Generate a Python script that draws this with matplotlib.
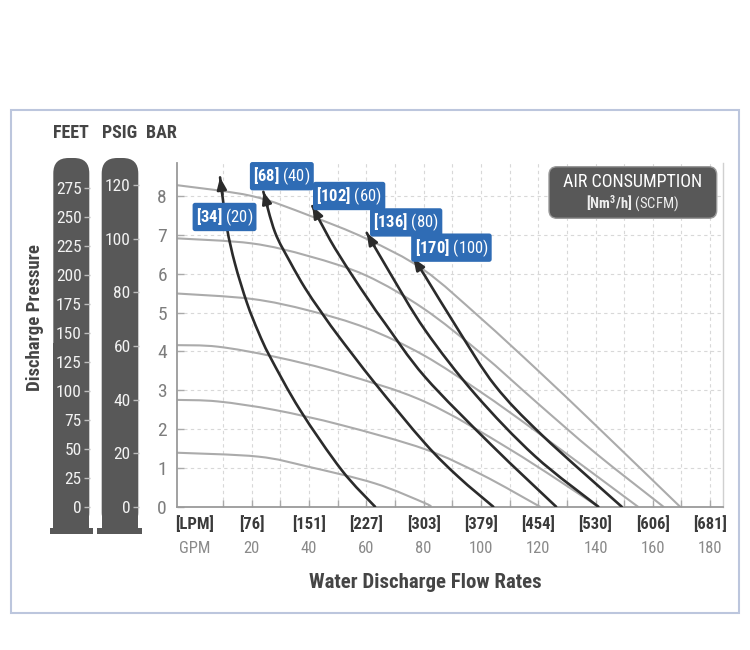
import numpy as np
import matplotlib
matplotlib.use("Agg")
import matplotlib.pyplot as plt
from matplotlib import font_manager
from matplotlib.patches import FancyBboxPatch, Rectangle, PathPatch
from matplotlib.path import Path

# ---- data ----
# pump performance curves (gray), flow in GPM vs discharge pressure in bar
pump_gpm = [
    [-6.2, 20, 40, 60, 80, 100, 120, 140, 169.5],
    [-6.2, 20, 40, 60, 80, 100, 120, 140, 163.7],
    [-6.2, 20, 40, 60, 80, 100, 120, 154.8],
    [-6.2, 8.2, 28.1, 51.4, 80.5, 110.5, 141.0],
    [-6.2, 8.2, 28.1, 51.4, 80.5, 100.4, 120.6],
    [-6.2, 22.2, 39.7, 63.0, 80.5, 82.2],
]
pump_bar = [
    [8.28, 8.00, 7.50, 6.90, 6.10, 4.85, 3.50, 2.10, 0.0],
    [6.91, 6.78, 6.45, 5.95, 5.10, 3.95, 2.65, 1.38, 0.0],
    [5.49, 5.35, 5.05, 4.60, 3.90, 2.95, 1.90, 0.0],
    [4.16, 4.12, 3.86, 3.43, 2.70, 1.46, 0.0],
    [2.75, 2.71, 2.49, 2.10, 1.48, 0.82, 0.0],
    [1.39, 1.29, 1.03, 0.60, 0.09, 0.0],
]

# air consumption lines (black), first point is the arrow tip
air_gpm = [
    [8.94, 11.27, 14.17, 18.36, 22.30, 26.39, 36.86, 51.41, 63.04],
    [24.05, 28.1, 33.4, 38.6, 43.8, 49.7, 63.0, 80.5, 92.1, 104.3],
    [41.15, 47.33, 54.31, 61.29, 66.53, 80.49, 103.77, 126.25],
    [60.14, 67.68, 80.49, 97.94, 118.88, 140.98],
    [76.40, 80.49, 92.11, 104.92, 121.22, 149.14],
]
air_bar = [
    [8.48, 7.21, 6.25, 5.24, 4.50, 3.86, 2.49, 0.94, 0.0],
    [8.11, 7.07, 6.30, 5.63, 5.06, 4.45, 3.18, 1.63, 0.77, 0.0],
    [7.74, 6.87, 6.04, 5.27, 4.72, 3.34, 1.58, 0.0],
    [7.05, 6.09, 4.55, 2.90, 1.30, 0.0],
    [6.40, 5.94, 4.55, 3.12, 1.85, 0.0],
]
air_nm3h = [34, 68, 102, 136, 170]
air_scfm = [20, 40, 60, 80, 100]

gpm_ticks = [0, 20, 40, 60, 80, 100, 120, 140, 160, 180]
lpm_labels = ["[LPM]", "[76]", "[151]", "[227]", "[303]", "[379]", "[454]", "[530]", "[606]", "[681]"]
gpm_labels = ["GPM", "20", "40", "60", "80", "100", "120", "140", "160", "180"]
bar_ticks = [0, 1, 2, 3, 4, 5, 6, 7, 8]
feet_ticks = [0, 25, 50, 75, 100, 125, 150, 175, 200, 225, 250, 275]
psig_ticks = [0, 20, 40, 60, 80, 100, 120]

FT_PER_BAR = 33.46
PSI_PER_BAR = 14.5

# ---- fonts ----
available = {f.name for f in font_manager.fontManager.ttflist}
FONT = next((f for f in ["Liberation Sans Narrow", "Roboto Condensed", "DejaVu Sans"] if f in available), "DejaVu Sans")
plt.rcParams["font.family"] = [FONT, "DejaVu Sans"]
plt.rcParams["mathtext.fontset"] = "custom"
plt.rcParams["mathtext.rm"] = FONT
plt.rcParams["mathtext.bf"] = FONT + ":bold"

W, H = 750, 650
DARK = "#585858"
BLUE = "#2f6cb5"
TXT = "#454545"

fig = plt.figure(figsize=(W / 100, H / 100), dpi=100)


def fig_rect(x0, y0, x1, y1):
    # pixel box (origin top-left) -> [left, bottom, width, height] in figure fraction
    return [x0 / W, 1 - y1 / H, (x1 - x0) / W, (y1 - y0) / H]


def inch(x, y):
    return x / 100, (H - y) / 100


def smooth_path(xs, ys):
    # Catmull-Rom through the read points, drawn as cubic bezier segments
    p = np.column_stack([xs, ys]).astype(float)
    ext = np.vstack([p[0], p, p[-1]])
    verts = [p[0]]
    codes = [Path.MOVETO]
    for i in range(1, len(ext) - 2):
        c1 = ext[i] + (ext[i + 1] - ext[i - 1]) / 6
        c2 = ext[i + 1] - (ext[i + 2] - ext[i]) / 6
        verts += [c1, c2, ext[i + 1]]
        codes += [Path.CURVE4] * 3
    return Path(verts, codes)


# ---- main chart ----
ax = fig.add_axes(fig_rect(176.7, 163, 723, 506.7))
ax.set_xlim(-6.2, 184.5)
ax.set_ylim(0, 8.85)

for xs, ys in zip(pump_gpm, pump_bar):
    ax.add_patch(PathPatch(smooth_path(xs, ys), fill=False, ec="#ababab", lw=1.5,
                           zorder=2, capstyle="round"))

for xs, ys in zip(air_gpm, air_bar):
    ax.add_patch(PathPatch(smooth_path(xs, ys), fill=False, ec="#2b2b2b", lw=1.9,
                           zorder=3, capstyle="round"))
    tail = (xs[0] + 0.35 * (xs[1] - xs[0]), ys[0] + 0.35 * (ys[1] - ys[0]))
    ax.annotate("", xy=(xs[0], ys[0]), xytext=tail,
                arrowprops=dict(arrowstyle="-|>,head_length=0.5,head_width=0.2",
                                color="#2b2b2b", lw=1.9, mutation_scale=14,
                                shrinkA=0, shrinkB=0), zorder=3)

label_pos = [(10.5, 7.46), (30.5, 8.51), (54.0, 8.0), (73.9, 7.32), (89.7, 6.67)]
for (lx, ly), n, s in zip(label_pos, air_nm3h, air_scfm):
    ax.text(lx, ly, r"$\mathbf{[%d]}$ (%d)" % (n, s), ha="center", va="center",
            color="white", fontsize=12, zorder=6,
            bbox=dict(boxstyle="round,pad=0.2,rounding_size=0.15", fc=BLUE, ec="none"))

ax.set_yticks(bar_ticks)
ax.set_xticks(np.arange(10, 181, 10))
ax.set_xticklabels([])
ax.tick_params(axis="y", direction="in", length=5, width=1, color="#aaaaaa",
               labelcolor="#7d7d7d", labelsize=14, pad=7)
ax.tick_params(axis="x", direction="in", length=5, width=1, color="#aaaaaa")
ax.grid(True, ls=(0, (3, 3)), color="#d8d8d8", lw=0.8, zorder=0)
ax.spines["top"].set_visible(False)
ax.spines["right"].set_color("#d0d0d0")
ax.spines["right"].set_linewidth(1)
for sp in ("left", "bottom"):
    ax.spines[sp].set_color("#9a9a9a")
    ax.spines[sp].set_linewidth(1.3)

xt = ax.get_xaxis_transform()
for g, top, bot in zip(gpm_ticks, lpm_labels, gpm_labels):
    ax.text(g, -0.05, top, transform=xt, ha="center", va="center",
            fontsize=12, fontweight="bold", color="#3a3a3a", clip_on=False)
    ax.text(g, -0.123, bot, transform=xt, ha="center", va="center",
            fontsize=12, color="#8a8a8a", clip_on=False)

fig.text(425 / W, 1 - 583 / H, "Water Discharge Flow Rates", ha="center", va="center",
         fontsize=15, fontweight="bold", color=TXT)

# legend box
bx0, by0 = inch(549, 218.3)
fig.add_artist(FancyBboxPatch((bx0, by0), (716.7 - 549) / 100, (218.3 - 166.7) / 100,
                              boxstyle="round,pad=0,rounding_size=0.08",
                              transform=fig.dpi_scale_trans, fc=DARK, ec="#9a9a9a",
                              lw=1, zorder=4))
fig.text(632.8 / W, 1 - 182 / H, "AIR CONSUMPTION", ha="center", va="center",
         fontsize=13, color="white", zorder=5)
fig.text(632.8 / W, 1 - 204 / H, r"$\mathbf{[Nm^{3}/h]}$ (SCFM)", ha="center", va="center",
         fontsize=10.5, color="#eeeeee", zorder=5)

# ---- left scale columns ----
def column(x0, x1, top, bottom, base0, base1):
    r = (x1 - x0) / 2 * 0.85
    px, py = inch(x0, bottom)
    fig.add_artist(FancyBboxPatch((px, py), (x1 - x0) / 100, (bottom - top) / 100,
                                  boxstyle="round,pad=0,rounding_size=%f" % (r / 100),
                                  transform=fig.dpi_scale_trans, fc=DARK, ec="none", zorder=-1))
    fig.add_artist(Rectangle((px, py), (x1 - x0) / 100, (bottom - top) / 200,
                             transform=fig.dpi_scale_trans, fc=DARK, ec="none", zorder=-1))
    px, py = inch(base0, bottom + 6)
    fig.add_artist(Rectangle((px, py), (base1 - base0) / 100, 0.06,
                             transform=fig.dpi_scale_trans, fc=DARK, ec="none", zorder=-1))


column(53.3, 89.3, 158, 528, 50, 92.7)
column(101.7, 138.3, 158, 528, 97.3, 141.7)

for xpos, ticks, scale in ((90, feet_ticks, FT_PER_BAR), (139, psig_ticks, PSI_PER_BAR)):
    sa = fig.add_axes(fig_rect(xpos, 163, xpos + 1, 506.7))
    sa.patch.set_visible(False)
    for sp in sa.spines.values():
        sp.set_visible(False)
    sa.set_ylim(0, 8.85 * scale)
    sa.set_yticks(ticks)
    sa.set_xticks([])
    sa.tick_params(axis="y", direction="out", length=4, width=1, color="#bdbdbd",
                   labelcolor="#f2f2f2", labelsize=12.5, pad=2)

for x, t in ((71, "FEET"), (120, "PSIG"), (161.5, "BAR")):
    fig.text(x / W, 1 - 133 / H, t, ha="center", va="center", fontsize=13,
             fontweight="bold", color=TXT)
fig.text(35 / W, 1 - 318 / H, "Discharge Pressure", rotation=90, ha="center", va="center",
         fontsize=13.5, fontweight="bold", color=TXT)

# outer frame
fx, fy = inch(11, 613)
fig.add_artist(Rectangle((fx, fy), (739 - 11) / 100, (613 - 110) / 100,
                         transform=fig.dpi_scale_trans, fill=False, ec="#bcc6dd", lw=1.5))

fig.savefig("out.png", dpi=100, facecolor="white")
